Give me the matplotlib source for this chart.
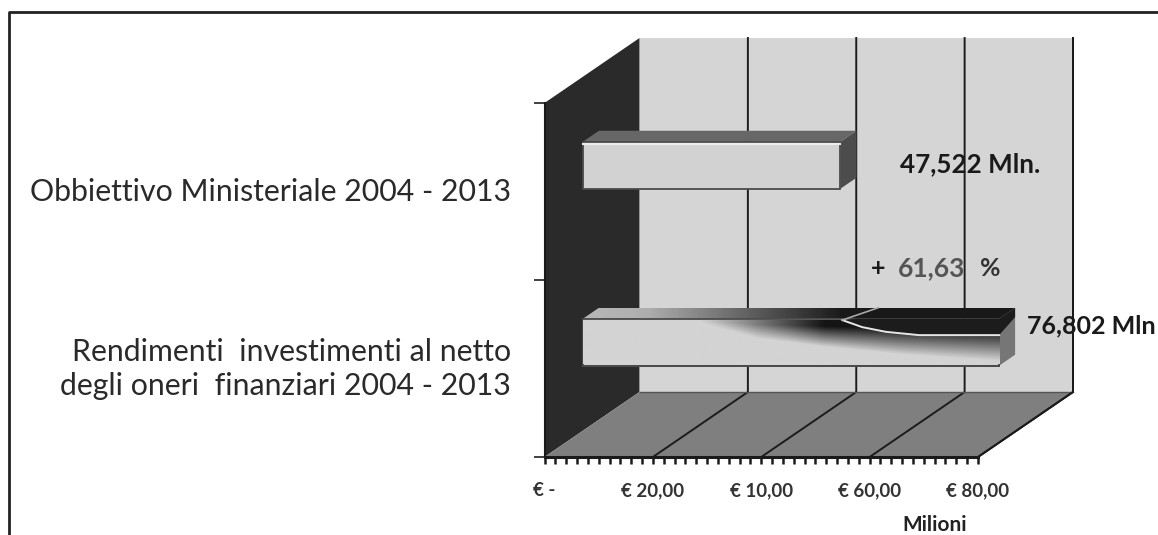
import numpy as np
import matplotlib
matplotlib.use('Agg')
import matplotlib.pyplot as plt
from matplotlib.patches import Polygon
from matplotlib.lines import Line2D

W, H = 1158, 535
plt.rcParams['font.family'] = ['Lato', 'DejaVu Sans']

# data
categories = ['Obbiettivo Ministeriale 2004 - 2013',
              'Rendimenti  investimenti al netto\ndegli oneri  finanziari 2004 - 2013']
values = [47.522, 76.802]
value_labels = ['47,522 Mln.', '76,802 Mln']
x_ticks = [0, 20, 40, 60, 80]
x_tick_labels = ['€ -', '€ 20,00', '€ 10,00', '€ 60,00', '€ 80,00']

# depth of the fake 3d box, in data units
x_per_px = 80 / 433.5
y_per_px = 2 / 354
DX = 95 * x_per_px
DY = 65 * y_per_px
cat_y = [1.5, 0.5]
bar_h = 47 * y_per_px
d0, d1 = 0.405, 0.573


def pj(x, y, d=0.0):
    return (x + d * DX, y + d * DY)


def px_fig(x, y):
    return x / W, 1 - y / H


fig = plt.figure(figsize=(W / 100, H / 100), dpi=100, facecolor='white')
ax = fig.add_axes([544.5 / W, (H - 457) / H, 433.5 / W, 354 / H])
ax.set_xlim(0, 80)
ax.set_ylim(0, 2)
ax.patch.set_alpha(0)

# walls and floor
ax.add_patch(Polygon([pj(0, 0, 1), pj(80, 0, 1), pj(80, 2, 1), pj(0, 2, 1)], fc='#d5d5d5', ec='none', clip_on=False, zorder=1))
ax.add_patch(Polygon([pj(0, 0), pj(0, 0, 1), pj(0, 2, 1), pj(0, 2)], fc='#2a2a2a', ec='none', clip_on=False, zorder=1))
ax.add_patch(Polygon([pj(0, 0), pj(80, 0), pj(80, 0, 1), pj(0, 0, 1)], fc='#7f7f7f', ec='none', clip_on=False, zorder=1))

# grid lines on back wall and floor
for t in x_ticks[1:]:
    xs, ys = zip(pj(t, 0), pj(t, 0, 1), pj(t, 2, 1))
    ax.plot(xs, ys, color='#1c1c1c', lw=1.4, clip_on=False, zorder=2)
xs, ys = zip(pj(0, 0, 1), pj(80, 0, 1))
ax.plot(xs, ys, color='#555555', lw=1, clip_on=False, zorder=2)

for i, (v, y) in enumerate(zip(values, cat_y)):
    lo, hi = y - bar_h / 2, y + bar_h / 2
    # side and top faces
    side = [pj(v, lo, d0), pj(v, lo, d1), pj(v, hi, d1), pj(v, hi, d0)]
    top = [pj(0, hi, d0), pj(v, hi, d0), pj(v, hi, d1), pj(0, hi, d1)]
    ax.add_patch(Polygon(side, fc='#4c4c4c' if i == 0 else '#767676', ec='none', clip_on=False, zorder=3))
    x0, _ = pj(0, 0, d0)
    x1, _ = pj(v, 0, d0)
    front = Polygon([(x0, lo + d0 * DY), (x1, lo + d0 * DY), (x1, hi + d0 * DY), (x0, hi + d0 * DY)],
                    fc='#d2d2d2', ec='#4a4a4a', lw=1.3, clip_on=False, zorder=5)
    if i == 0:
        ax.add_patch(Polygon(top, fc='#676767', ec='none', clip_on=False, zorder=3))
        ax.add_patch(front)
        ax.plot([x0, x1], [hi + d0 * DY - 2 * y_per_px] * 2, color='#ececec', lw=1.5, clip_on=False, zorder=6)
    else:
        # top face goes from grey to near black
        p = Polygon(top, fc='none', ec='none', clip_on=False, zorder=3)
        ax.add_patch(p)
        g = np.interp(np.linspace(0, 1, 400), [0, 0.15, 0.35, 0.6, 1], [0.72, 0.68, 0.42, 0.1, 0.1])
        tx0, ty0 = pj(0, hi, d0)
        tx1, ty1 = pj(v, hi, d1)
        im = ax.imshow(g[None, :], extent=[tx0, tx1, ty0, ty1], cmap='gray', vmin=0, vmax=1,
                       aspect='auto', zorder=3, interpolation='bilinear')
        im.set_clip_path(p)
        im.set_clip_box(fig.bbox)

        # front face, dark shade falls in from the upper right
        ax.add_patch(front)
        nx, ny = 500, 120
        fx = np.linspace(0, 1, nx)
        fy = np.linspace(0, 1, ny)
        depth = np.interp(fx, [0.28, 0.42, 0.57, 0.76, 1.0], [0.05, 0.32, 0.46, 0.6, 0.72])
        ramp = np.clip((fx - 0.28) / 0.3, 0, 1)
        xx, yy = np.meshgrid(fx, fy)
        dd = np.repeat(depth[None, :], ny, axis=0)
        dark = np.clip(1.3 - yy / dd, 0, 1) * ramp[None, :]
        shade = 0.83 - 0.75 * dark
        im2 = ax.imshow(shade, extent=[x0, x1, lo + d0 * DY + 0.01, hi + d0 * DY - 0.01], origin='upper', cmap='gray', vmin=0, vmax=1,
                        aspect='auto', zorder=5.2, interpolation='bilinear')
        im2.set_clip_box(fig.bbox)

        # dark blade with the white highlight
        cx = x0 + (x1 - x0) * np.array([0.623, 0.671, 0.728, 0.808, 1.0])
        cy = hi + d0 * DY - bar_h * np.array([0.03, 0.18, 0.28, 0.35, 0.35])
        ttop = hi + d0 * DY
        blade = list(zip(cx, cy)) + [(x1, ttop), (x0 + (x1 - x0) * 0.66, ttop)]
        ax.add_patch(Polygon(blade, fc='#1c1c1c', ec='none', clip_on=False, zorder=5.4))
        ax.plot(cx, cy, color='#e6e6e6', lw=1.4, clip_on=False, zorder=5.6)
        ux, uy = pj(x0 - d0 * DX + (x1 - x0) * 0.671, hi, d1)
        ax.plot([cx[0], ux], [cy[0], uy], color='#a8a8a8', lw=1.2, clip_on=False, zorder=5.6)
        # side face dark part on top
        ax.add_patch(Polygon([pj(v, hi - 0.35 * bar_h, d0), pj(v, hi - 0.2 * bar_h, d1), pj(v, hi, d1), pj(v, hi, d0)],
                             fc='#1c1c1c', ec='none', clip_on=False, zorder=5.4))
        ax.plot([x0, x1], [lo + d0 * DY] * 2, color='#4a4a4a', lw=1.3, clip_on=False, zorder=5.6)

# restore limits changed by imshow
ax.set_xlim(0, 80)
ax.set_ylim(0, 2)

# axes
for s in ['top', 'right']:
    ax.spines[s].set_visible(False)
ax.spines['bottom'].set_linewidth(2.2)
ax.spines['bottom'].set_color('#1a1a1a')
ax.spines['left'].set_linewidth(1.5)
ax.spines['left'].set_color('#1a1a1a')
ax.set_xticks(x_ticks)
ax.set_xticklabels(x_tick_labels, fontsize=13.5, fontweight='bold', color='#333333')
ax.set_xticks(np.arange(0, 81, 2), minor=True)
ax.tick_params(axis='x', which='both', length=5, width=1.8, color='#1a1a1a', direction='out', pad=13)
ax.set_yticks([0, 1, 2])
ax.set_yticklabels([])
ax.tick_params(axis='y', length=8, width=1.3, color='#333333')

# floor front-right edge and back wall right edge
xs, ys = zip(pj(80, 0), pj(80, 0, 1), pj(80, 2, 1))
ax.plot(xs, ys, color='#1a1a1a', lw=1.4, clip_on=False, zorder=4)

# labels
fig.text(*px_fig(511, 192), categories[0], ha='right', va='center', fontsize=21.8, color='#2a2a2a')
fig.text(*px_fig(511, 369), categories[1], ha='right', va='center', fontsize=21.8, color='#2a2a2a', linespacing=1.25)
fig.text(*px_fig(900, 164), value_labels[0], ha='left', va='center', fontsize=18.7, fontweight='bold', color='#1a1a1a', zorder=10)
fig.text(*px_fig(1027, 326), value_labels[1], ha='left', va='center', fontsize=18, fontweight='bold', color='#1a1a1a', zorder=10)
fig.text(*px_fig(871, 268), '+', ha='left', va='center', fontsize=18, fontweight='bold', color='#1a1a1a', zorder=10)
fig.text(*px_fig(898, 268), '61,63', ha='left', va='center', fontsize=19, fontweight='bold', color='#555555', zorder=10)
fig.text(*px_fig(980, 268), '%', ha='left', va='center', fontsize=18, fontweight='bold', color='#333333', zorder=10)
fig.text(*px_fig(935, 525), 'Milioni', ha='center', va='center', fontsize=15, fontweight='bold', color='#222222')

# outer frame, top and left only reach the picture
fig.add_artist(Line2D([9 / W, 9 / W, 1], [0, 1 - 12 / H, 1 - 12 / H], color='#222222', lw=2, transform=fig.transFigure))

fig.savefig('out.png', dpi=100)
